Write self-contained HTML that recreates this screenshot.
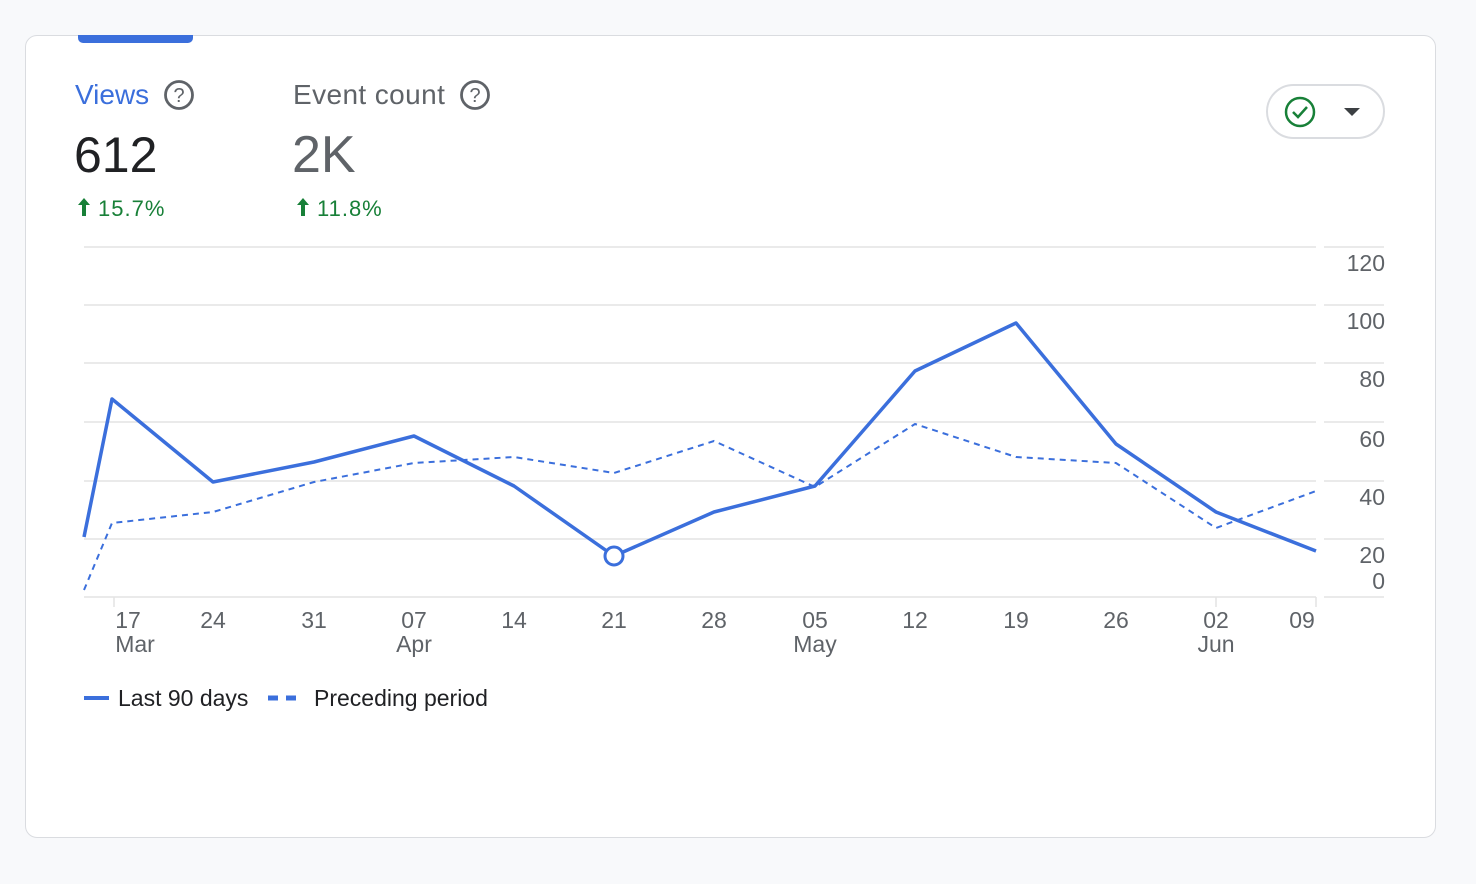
<!DOCTYPE html><html><head><style>
body{margin:0;width:1476px;height:884px;background:#f8f9fb;font-family:"Liberation Sans",sans-serif;position:relative;overflow:hidden}
.card{position:absolute;left:25px;top:35px;width:1409px;height:801px;background:#fff;border:1px solid #dadce0;border-radius:12px}
.t{position:absolute;white-space:nowrap}
</style></head><body>
<div class="card"></div>
<div style="position:absolute;left:78px;top:35px;width:115px;height:8px;background:#3b6fdc;border-radius:0 0 5px 5px"></div>
<div class="t" style="left:75px;top:79px;font-size:28px;color:#3b6fdc">Views</div>
<div class="t" style="left:293px;top:79px;font-size:28px;color:#5f6368;letter-spacing:0.4px">Event count</div>
<svg style="position:absolute;left:0;top:0" width="1476" height="884">
<g fill="none" stroke="#5f6368" stroke-width="2.8"><circle cx="179" cy="95" r="13.5"/><circle cx="475" cy="95" r="13.5"/></g>
<text x="179" y="102" font-size="20" fill="#5f6368" text-anchor="middle" font-family="Liberation Sans">?</text>
<text x="475" y="102" font-size="20" fill="#5f6368" text-anchor="middle" font-family="Liberation Sans">?</text>
<rect x="1267" y="85" width="117" height="53" rx="26.5" fill="#fff" stroke="#dadce0" stroke-width="2"/>
<circle cx="1300" cy="112" r="14" fill="none" stroke="#188038" stroke-width="2.5"/>
<path d="M1293 112l5 5 9-10" fill="none" stroke="#188038" stroke-width="2.5"/>
<path d="M1344 108h16l-8 8z" fill="#3c4043"/>
<g stroke="#e3e3e3" stroke-width="1.5">
<path d="M84 247H1316M84 305H1316M84 363H1316M84 422H1316M84 481H1316M84 539H1316M84 597H1316"/>
<path d="M1324 247H1384M1324 305H1384M1324 363H1384M1324 422H1384M1324 481H1384M1324 539H1384M1324 597H1384"/>
<path d="M114 597v10M1216 597v10M1316 597v10"/>
</g>
<polyline fill="none" stroke="#3b6fdc" stroke-width="2" stroke-dasharray="6,5" points="84,590 112,523 213,512 314,482 414,463 514,457 614,473 714,441 815,487 915,424 1016,457 1116,463 1216,528 1316,491"/>
<polyline fill="none" stroke="#3b6fdc" stroke-width="3.5" stroke-linejoin="round" points="84,537 112,399 213,482 314,462 414,436 514,486 614,556 714,512 815,486 915,371 1016,323 1116,444 1216,512 1316,551"/>
<circle cx="614" cy="556" r="9" fill="#fff" stroke="#3b6fdc" stroke-width="3"/>
<g font-family="Liberation Sans" font-size="23" fill="#5f6368" text-anchor="end">
<text x="1385" y="271">120</text><text x="1385" y="329">100</text><text x="1385" y="387">80</text><text x="1385" y="447">60</text><text x="1385" y="505">40</text><text x="1385" y="563">20</text><text x="1385" y="589">0</text>
</g>
<g font-family="Liberation Sans" font-size="23" fill="#5f6368" text-anchor="middle">
<text x="128" y="628">17</text><text x="135" y="652">Mar</text><text x="213" y="628">24</text><text x="314" y="628">31</text><text x="414" y="628">07</text><text x="414" y="652">Apr</text><text x="514" y="628">14</text><text x="614" y="628">21</text><text x="714" y="628">28</text><text x="815" y="628">05</text><text x="815" y="652">May</text><text x="915" y="628">12</text><text x="1016" y="628">19</text><text x="1116" y="628">26</text><text x="1216" y="628">02</text><text x="1216" y="652">Jun</text><text x="1302" y="628">09</text>
</g>
<path d="M84 698h25" stroke="#3b6fdc" stroke-width="4"/>
<path d="M268 698h34" stroke="#3b6fdc" stroke-width="5" stroke-dasharray="10,8"/>
<text x="118" y="706" font-family="Liberation Sans" font-size="23" fill="#202124">Last 90 days</text>
<text x="314" y="706" font-family="Liberation Sans" font-size="23" fill="#202124">Preceding period</text>
<g fill="#188038"><path d="M84 198l-6 7h4v11h4v-11h4z"/><path d="M303 198l-6 7h4v11h4v-11h4z"/></g>
<text x="98" y="216" font-family="Liberation Sans" font-size="22" fill="#188038" letter-spacing="1">15.7%</text>
<text x="317" y="216" font-family="Liberation Sans" font-size="22" fill="#188038" letter-spacing="1">11.8%</text>
<text x="74" y="172" font-family="Liberation Sans" font-size="50" fill="#202124">612</text>
<text x="292" y="172" font-family="Liberation Sans" font-size="52" fill="#5f6368">2K</text>
</svg>
</body></html>
